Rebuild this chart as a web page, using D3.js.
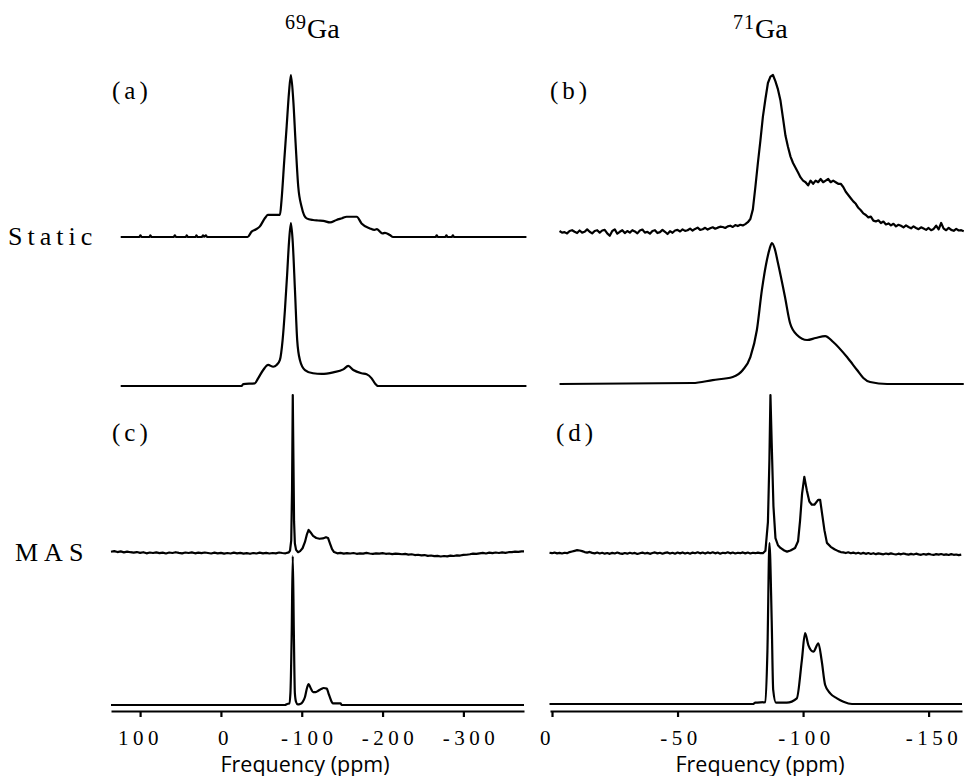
<!DOCTYPE html>
<html><head><meta charset="utf-8">
<script src="https://cdn.jsdelivr.net/npm/d3@7"></script>
<style>
html,body{margin:0;padding:0;background:#fff;}
svg{display:block;}
</style></head>
<body>
<svg id="chart" width="965" height="776"></svg>
<script>
// ---------------- DATA ----------------
// Tick values of the two frequency axes (ppm)
const ticks69 = [100, 0, -100, -200, -300];
const ticks71 = [0, -50, -100, -150];
const columnTitles = [{iso:"69", el:"Ga"}, {iso:"71", el:"Ga"}];
const panelLetters = ["(a)", "(b)", "(c)", "(d)"];
const rowLabels = ["Static", "MAS"];
const axisTitle = "Frequency (ppm)";

// 69Ga static, experimental: [ppm, relative intensity]
const ga69StaticExp = [[124,0],[101,0],[99.6,1],[98,0],[88.5,0],[87.2,1],[86,0],[58.5,0],[57,1],[55.5,0],[43.5,0],[42.2,1],[41,0],[31.5,0],[30.2,1],[29,0],[23.5,0],[22.3,1],[20.5,0.2],[18.6,1],[17,0],[-33,0],[-38,3.3],[-43,4.6],[-48,6.4],[-54.5,11.7],[-58,13.6],[-73,13.6],[-75,22.8],[-78.4,47.5],[-81.3,68],[-84.2,89],[-86.6,100],[-89.5,84.6],[-92.4,58],[-95.7,31],[-99.8,18.7],[-106,11.5],[-114,10.5],[-120,10.2],[-126.7,10],[-135,9],[-143,10.5],[-150,11.6],[-155.5,12.5],[-168,12.5],[-174,8.4],[-184.4,5.3],[-190,4.4],[-193,4.8],[-196.7,3.3],[-200,2.2],[-203,2.6],[-209,1.2],[-213,0],[-265.5,0],[-267,1],[-268.5,0],[-277.5,0],[-279,1],[-280.5,0],[-285.5,0],[-287,1],[-288.5,0],[-378,0]];

// 69Ga static, simulated
const ga69StaticSim = [[124,0],[-25.6,0],[-27.6,1.2],[-42,1.6],[-46,4.7],[-52.3,9.8],[-58.5,12.9],[-64.7,11.8],[-68.9,12.9],[-73,16],[-76.3,28],[-79.2,46.6],[-82,69],[-84.2,88],[-86.6,100],[-88.7,89.6],[-91.6,59],[-94.4,28],[-97.7,16],[-104,9.8],[-114,7.8],[-124.6,7.4],[-139,8.4],[-151.4,10.2],[-157.6,12.3],[-163.8,9.8],[-174,7.8],[-180.3,7.2],[-186.5,4.7],[-190.6,1.6],[-194.6,0],[-378,0]];

// 69Ga MAS, experimental: noisy baseline 136 → -84 ppm (step -4), peak region, baseline -144 → -372 (step -4)
const ga69MasExpBaseLeft = [0.8,1.2,0.6,1.0,0.4,0.9,0.5,0.2,0.6,0.1,
  0.5,-0.2,0.3,0.0,0.4,-0.1,0.2,-0.3,0.3,0.0,
  0.5,0.1,-0.2,0.3,0.0,0.4,-0.2,0.2,-0.1,0.3,
  0.0,-0.3,0.2,-0.2,0.1,-0.4,0.0,-0.3,0.2,-0.2,
  0.1,-0.4,-0.1,-0.5,0.0,-0.3,0.2,-0.2,0.1,-0.3,
  0.0,-0.2,0.3,0.0,-0.2,0.4];
const ga69MasExpPeak = [[-85.5,1.5],[-87,8],[-88,40],[-88.9,100],[-89.7,60],[-90.5,20],[-91.5,6],[-93,2],[-95.5,0.5],[-98,1.2],[-101,3],[-104,7],[-106.5,12],[-108.5,14.6],[-111,13],[-114,10.8],[-118,9.5],[-122,9],[-126,9.2],[-130,10],[-132.5,9.5],[-135,6],[-137.5,2.5],[-140,0.6]];
const ga69MasExpBaseRight = [-0.2,0.1,-0.4,-0.1,-0.3,0.0,-0.5,-0.2,-0.4,0.1,
  -0.3,-0.6,-0.2,-0.4,-0.1,-0.5,-0.3,-0.7,-0.4,-0.6,
  -0.8,-0.6,-1.0,-0.8,-1.3,-1.1,-1.5,-1.3,-1.8,-1.6,
  -2.0,-1.8,-2.2,-1.9,-2.1,-1.7,-1.9,-1.5,-1.6,-1.2,
  -1.1,-0.8,-0.4,-0.6,-0.2,0.1,-0.3,0.2,-0.1,0.3,
  0.0,0.4,0.1,0.5,0.6,0.9,0.7,1.0];

// 69Ga MAS, simulated
const ga69MasSim = [[136,0],[-79,0],[-82,0.7],[-84.5,1],[-86,8],[-87.5,45],[-88.9,100],[-90.2,50],[-91.5,8],[-93,2],[-95,0.4],[-98,0.7],[-101,2],[-104,5.4],[-106.5,11.4],[-108.5,14],[-111,11.4],[-114,8.7],[-117,8.7],[-120,9.4],[-124,10.7],[-127,11.4],[-131,11],[-133,8],[-135,5],[-137,2.2],[-138.5,1.1],[-148,1.1],[-149.5,0],[-375,0]];

// 71Ga static, experimental: -3 → -164 ppm, step -1
const ga71StaticExp = [2.5,1.5,1.8,1.0,2.5,3.0,2.0,1.2,2.8,1.5,
  2.0,3.5,2.0,1.0,2.5,3.0,1.5,2.8,3.2,1.0,
  -0.5,2.5,3.5,0.8,2.0,3.0,1.2,2.5,1.5,3.0,
  2.2,1.0,2.8,3.4,1.5,2.0,0.8,2.5,3.0,1.2,
  1.8,3.2,2.0,0.6,2.4,1.4,2.8,3.2,2.2,3.5,
  2.6,3.0,4.0,2.8,3.8,4.6,3.2,3.6,4.5,3.4,
  4.2,4.8,3.9,4.6,5.2,5.0,4.4,5.4,5.8,5.0,
  6.2,5.6,6.4,6.0,6.8,8.0,10,16,30,45,
  59,74,85,95,99,100,96,91,84,73,
  62,55,49,45,42,39,36,34,33,31,
  34,32,34,33,35,33,34,35,33,34,
  33,32,32,30,27,25,23,21,19.5,17,
  15.5,13.5,12.5,11,11.5,9,8.5,9.2,7.5,8.4,
  6.6,7.2,6.0,7.0,5.4,6.4,5.8,4.8,6.0,5.0,
  4.2,5.4,4.4,3.6,4.8,4.0,3.2,4.4,3.0,3.8,
  5.8,3.5,7.5,4.0,3.0,4.5,3.2,2.6,3.8,2.8,
  3.0,2.4];

// 71Ga static, simulated
const ga71StaticSim = [[-3,0],[-56,0.7],[-64,2.8],[-72,5.0],[-76,9.9],[-79,19.1],[-81.6,38.3],[-83.6,66.7],[-85.6,87.9],[-86.7,96],[-87.6,100],[-88.7,96],[-90,85.8],[-92.8,61.7],[-94.8,43.3],[-97.6,34.8],[-101.6,31.2],[-105,32.6],[-108.8,34.0],[-112,29.8],[-117.5,19.1],[-121.5,9.9],[-124,4.3],[-126.7,1.4],[-133.5,0],[-164,0]];

// 71Ga MAS, experimental: baseline 1 → -83 (step -1), peak region, baseline -116 → -163 (step -1)
const ga71MasExpBaseLeft = [0.8,0.5,0.9,0.4,0.7,0.3,0.8,0.5,1.2,1.6,
  2.0,2.4,2.2,1.8,1.2,0.9,1.3,0.7,0.4,0.9,
  0.3,0.8,0.2,0.6,0.1,0.7,0.3,0.9,0.4,0.1,
  0.6,0.2,0.8,0.3,0.7,0.0,0.5,0.9,0.3,0.7,
  0.1,0.6,1.0,0.4,0.8,0.2,0.7,1.0,0.3,0.8,
  0.2,0.9,0.4,1.0,0.3,0.8,0.2,0.9,0.5,1.1,
  0.4,0.9,0.3,1.0,0.5,1.1,0.4,0.9,0.2,0.8,
  0.5,1.1,0.4,0.9,0.3,0.8,0.5,1.0,0.4,0.9,
  0.3,0.8,0.5,0.9,0.6];
const ga71MasExpPeak = [[-84,0.5],[-85,2],[-86,20],[-86.6,60],[-87,100],[-87.5,70],[-88.2,30],[-89,10],[-90,5.5],[-91,3.8],[-92.5,2.2],[-93.6,1.5],[-95,2.2],[-96.8,3.8],[-98,8],[-98.8,21],[-99.6,38],[-100.5,48.5],[-101.5,40],[-102.5,33],[-103.5,31],[-104.5,31],[-106,34],[-106.8,34],[-107.7,24],[-108.5,15],[-109.5,7],[-111,4.5],[-112.5,3],[-114,1.8],[-115,1.2]];
const ga71MasExpBaseRight = [1.0,0.6,1.1,0.5,0.9,0.3,0.8,0.2,0.7,0.1,
  0.6,0.0,0.5,-0.1,0.4,0.1,-0.2,0.3,-0.1,0.4,
  0.0,-0.3,0.2,-0.2,0.3,-0.1,-0.4,0.1,-0.3,0.2,
  -0.2,-0.5,0.0,-0.4,0.1,-0.3,-0.6,-0.1,-0.4,0.0,
  -0.5,-0.2,-0.6,-0.1,-0.5,-0.3,-0.7,-0.4];

// 71Ga MAS, simulated
const ga71MasSim = [[1,0],[-80,0],[-81,0.8],[-85,1.2],[-85.8,33],[-86.6,100],[-87.5,52],[-88.1,8.7],[-89.2,0.8],[-93.5,0.8],[-97.5,3.5],[-99.5,27],[-100.8,44],[-102.1,36.6],[-104.1,32.5],[-106.1,37.7],[-107.4,27],[-108.8,11.8],[-110.8,6.6],[-113.5,3.5],[-116.1,1.4],[-119.5,0],[-163.3,0]];

// ---------------- BUILD ----------------
const SERIF = '"Liberation Serif", "Times New Roman", Times, "DejaVu Serif", serif';
const SANS = '"Open Sans", "Liberation Sans", Arial, sans-serif';

const gridPairs = (start, step, vals) => vals.map((v, i) => [start + step * i, v]);
const ga69MasExp = gridPairs(136, -4, ga69MasExpBaseLeft)
  .concat(ga69MasExpPeak)
  .concat(gridPairs(-144, -4, ga69MasExpBaseRight))
  .concat([[-375, 1.0]]);
const ga71StaticExpPairs = gridPairs(-3, -1, ga71StaticExp);
const ga71MasExp = gridPairs(1, -1, ga71MasExpBaseLeft)
  .concat(ga71MasExpPeak)
  .concat(gridPairs(-116, -1, ga71MasExpBaseRight));

const svg = d3.select("#chart");

const xL = d3.scaleLinear().domain([136, -375]).range([111, 524]);
const xR = d3.scaleLinear().domain([0.8, -163.3]).range([550, 962]);

const traces = [
  {data: ga69StaticExp, x: xL, base: 237, top: 75, curve: d3.curveMonotoneX},
  {data: ga69StaticSim, x: xL, base: 386, top: 223, curve: d3.curveMonotoneX},
  {data: ga69MasExp, x: xL, base: 553, top: 395, curve: d3.curveLinear},
  {data: ga69MasSim, x: xL, base: 705, top: 556, curve: d3.curveMonotoneX},
  {data: ga71StaticExpPairs, x: xR, base: 235, top: 75, curve: d3.curveLinear},
  {data: ga71StaticSim, x: xR, base: 384, top: 243, curve: d3.curveMonotoneX},
  {data: ga71MasExp, x: xR, base: 554, top: 395, curve: d3.curveLinear},
  {data: ga71MasSim, x: xR, base: 704, top: 543, curve: d3.curveMonotoneX}
];

traces.forEach(t => {
  const y = d3.scaleLinear().domain([0, 100]).range([t.base, t.top]);
  const line = d3.line().x(d => t.x(d[0])).y(d => y(d[1])).curve(t.curve);
  svg.append("path").datum(t.data)
    .attr("d", line)
    .attr("fill", "none").attr("stroke", "#000")
    .attr("stroke-width", 2.2).attr("stroke-linejoin", "round");
});

// axes
function drawAxis(scale, vals, ty, offset) {
  const g = svg.append("g").attr("transform", `translate(0,${ty})`)
    .call(d3.axisBottom(scale).tickValues(vals).tickSize(6).tickSizeOuter(0).tickPadding(13)
      .tickFormat(d => String(d)));
  g.attr("font-family", SERIF).attr("font-size", 21);
  g.select(".domain").attr("stroke", "#000").attr("stroke-width", 2.2);
  g.selectAll(".tick line").attr("stroke", "#000").attr("stroke-width", 2.2);
  g.selectAll(".tick text")
    .attr("font-family", SERIF).attr("font-size", 21).attr("fill", "#000")
    .attr("letter-spacing", "4.5px").attr("dx", d => offset(d));
  return g;
}
drawAxis(xL, ticks69, 711, d => d > 0 ? 0 : (d === 0 ? 4 : 7));
drawAxis(xR, ticks71, 711, d => d === 0 ? -5 : (d === -150 ? 5 : 3));

// axis titles
[[305, 771.5], [760, 771.5]].forEach(p => {
  svg.append("text").attr("font-family", SANS).attr("x", p[0]).attr("y", p[1])
    .attr("text-anchor", "middle").attr("font-size", 21.5).attr("fill", "#000").text(axisTitle);
});

// column titles
[[285, 38], [733, 38]].forEach((p, i) => {
  const t = svg.append("text").attr("font-family", SERIF).attr("fill", "#000").attr("x", p[0]).attr("y", p[1]);
  t.append("tspan").attr("font-size", 20).attr("dy", -9).attr("letter-spacing", "1px").text(columnTitles[i].iso);
  t.append("tspan").attr("font-size", 28).attr("dy", 9).text(columnTitles[i].el);
});

// panel letters
[[112, 99], [550, 99], [112, 441], [556, 441]].forEach((p, i) => {
  svg.append("text").attr("font-family", SERIF).attr("fill", "#000").attr("x", p[0]).attr("y", p[1])
    .attr("font-size", 25).attr("letter-spacing", "4px").text(panelLetters[i]);
});

// row labels
[[8, 245], [15, 561]].forEach((p, i) => {
  svg.append("text").attr("font-family", SERIF).attr("fill", "#000").attr("x", p[0]).attr("y", p[1])
    .attr("font-size", 26).attr("letter-spacing", i === 0 ? "5px" : "6px").text(rowLabels[i]);
});
</script>
</body></html>
